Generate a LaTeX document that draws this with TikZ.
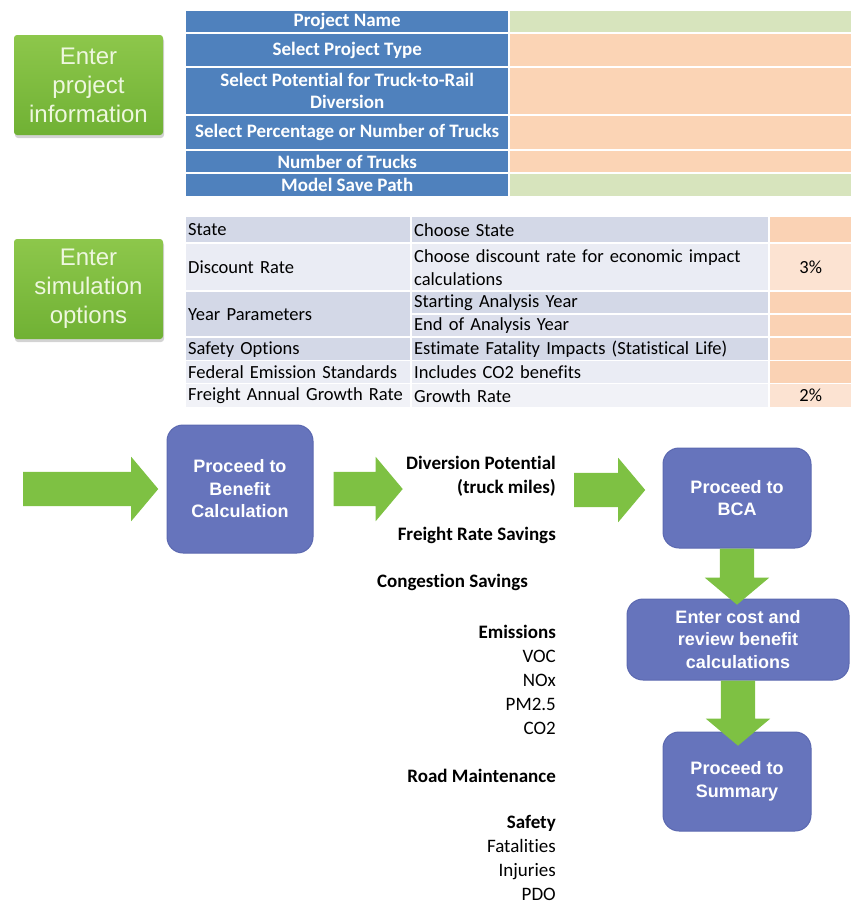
\documentclass[tikz,border=0pt]{standalone}
\usepackage{fontspec}
\setmainfont{Carlito}[Ligatures=NoCommon]
\newfontfamily\arialfont{Liberation Sans}
\usetikzlibrary{shapes.arrows}
\usetikzlibrary{shadows}
\usetikzlibrary{positioning}

\definecolor{tblue}{HTML}{4F81BD}
\definecolor{pgreen}{HTML}{D7E4BD}
\definecolor{porange}{HTML}{FBD4B5}
\definecolor{shD}{HTML}{D3D8E7}
\definecolor{shM}{HTML}{DCDFEC}
\definecolor{shL}{HTML}{EAECF4}
\definecolor{shVL}{HTML}{F1F2F7}
\definecolor{oran}{HTML}{FAD2B4}
\definecolor{oranL}{HTML}{FCE3D2}
\definecolor{gtop}{HTML}{8DC74B}
\definecolor{gbot}{HTML}{70B134}
\definecolor{gtext}{HTML}{EEF7DF}
\definecolor{bfill}{HTML}{6674BC}
\definecolor{bdraw}{HTML}{5B68B0}
\definecolor{agreen}{HTML}{7EC143}

\begin{document}
\begin{tikzpicture}[x=1pt,y=-1pt,
	hdr/.style={rectangle, fill=tblue, text=white, inner sep=0pt, anchor=north west,
		minimum width=322pt, align=center, font=\bfseries\fontsize{19}{22}\selectfont},
	valcell/.style={rectangle, inner sep=0pt, anchor=north west, minimum width=341pt},
	cola/.style={rectangle, inner xsep=2pt, inner ysep=0pt, anchor=north west,
		text width=220pt, align=left, font=\fontsize{18.5}{23}\selectfont},
	colb/.style={cola, text width=352pt},
	colc/.style={cola, text width=77pt, align=center},
	gbox/.style={rectangle, rounded corners=3pt, top color=gtop, bottom color=gbot,
		text=gtext, minimum width=149pt, minimum height=100pt, align=center,
		font=\arialfont\fontsize{24}{29}\selectfont,
		drop shadow={opacity=0.35, shadow xshift=1pt, shadow yshift=-3pt}},
	bbox/.style={rectangle, rounded corners=16pt, fill=bfill, draw=bdraw, line width=1pt,
		text=white, align=center, font=\arialfont\bfseries\fontsize{18}{22.5}\selectfont},
	garrow/.style={single arrow, fill=agreen, draw=none, inner sep=17pt,
		single arrow head extend=15pt, single arrow tip angle=100},
	listb/.style={anchor=east, align=right, inner sep=0pt, font=\bfseries\fontsize{19}{24}\selectfont},
	listn/.style={anchor=east, align=right, inner sep=0pt, font=\fontsize{19}{24}\selectfont}
	]

	\useasboundingbox (0,0) rectangle (851,905);

	% Project information
	\node[gbox] (projinfo) at (88.5,85) {Enter\\project\\information};
	\foreach \y/\h/\t/\c [count=\i] in {11/21/Project Name/pgreen,
		34/32/Select Project Type/porange,
		68/46/{Select Potential for Truck-to-Rail\\Diversion}/porange,
		116/33/Select Percentage or Number of Trucks/porange,
		151/21/Number of Trucks/porange,
		174/22/Model Save Path/pgreen}{
		\node[hdr, minimum height=\h pt] (lab\i) at (186,\y) {\t};
		\node[valcell, fill=\c, minimum height=\h pt] (val\i) at (510,\y) {};
	}

	% Simulation options
	\node[gbox] (simopt) at (88.5,289) {Enter\\simulation\\options};
	\foreach \y/\h/\a/\b/\v/\s/\o [count=\i] in {217/25/State/Choose State//shD/oran,
		244/46/Discount Rate/{Choose discount rate for economic impact\\calculations}/3\%/shL/oranL,
		338/22/Safety Options/Estimate Fatality Impacts (Statistical Life)//shD/oran,
		361/22/Federal Emission Standards/Includes CO2 benefits//shL/oran,
		384/23/Freight Annual Growth Rate/Growth Rate/2\%/shVL/oranL}{
		\node[cola, fill=\s, minimum height=\h pt] (opta\i) at (186,\y) {\a};
		\node[colb, fill=\s, minimum height=\h pt] (optb\i) at (412,\y) {\b};
		\node[colc, fill=\o, minimum height=\h pt] (optc\i) at (770,\y) {\v};
	}
	\node[cola, fill=shD, minimum height=44pt] (yeara) at (186,292) {Year Parameters};
	\node[colb, fill=shD, minimum height=21pt] (yearb1) at (412,292) {Starting Analysis Year};
	\node[colb, fill=shM, minimum height=21pt] (yearb2) at (412,315) {End of Analysis Year};
	\node[colc, fill=oran, minimum height=21pt] (yearc1) at (770,292) {};
	\node[colc, fill=oran, minimum height=21pt] (yearc2) at (770,315) {};

	% Flow
	\node[bbox, minimum width=146pt, minimum height=128pt] (calc) at (240,489) {Proceed to\\Benefit\\Calculation};
	\node[bbox, minimum width=148pt, minimum height=100pt] (bca) at (737,498) {Proceed to\\BCA};
	\node[bbox, minimum width=222pt, minimum height=81pt] (cost) at (738,639.5) {Enter cost and\\review benefit\\calculations};
	\node[bbox, minimum width=148pt, minimum height=99pt] (summ) at (737,781.5) {Proceed to\\Summary};

	\node[garrow, minimum height=135pt, anchor=tip] (a1) at ([xshift=-8pt]calc.west) {};
	\node[garrow, minimum height=69pt, anchor=tail] (a2) at ([xshift=20pt]calc.east) {};
	\node[garrow, minimum height=71pt, anchor=tip] (a3) at ([shift={(-17,-8)}]bca.west) {};
	\node[garrow, shape border rotate=270, minimum height=56pt, anchor=tail] (d1) at (bca.south) {};
	\node[garrow, shape border rotate=270, minimum height=65pt, anchor=tail] (d2) at (cost.south) {};

	% Benefits
	\node[listb] (divpot) at (556,476.5) {Diversion Potential\\(truck miles)};
	\node[listb] (frsave) at (556,535) {Freight Rate Savings};
	\node[listb] (congsave) at (528,582) {Congestion Savings};
	\node[listn] (emiss) at (556,679.5) {\textbf{Emissions}\\VOC\\NOx\\PM2.5\\CO2};
	\node[listb] (roadmaint) at (556,776) {Road Maintenance};
	\node[listn] (safety) at (556,857.5) {\textbf{Safety}\\Fatalities\\Injuries\\PDO};

\end{tikzpicture}
\end{document}
